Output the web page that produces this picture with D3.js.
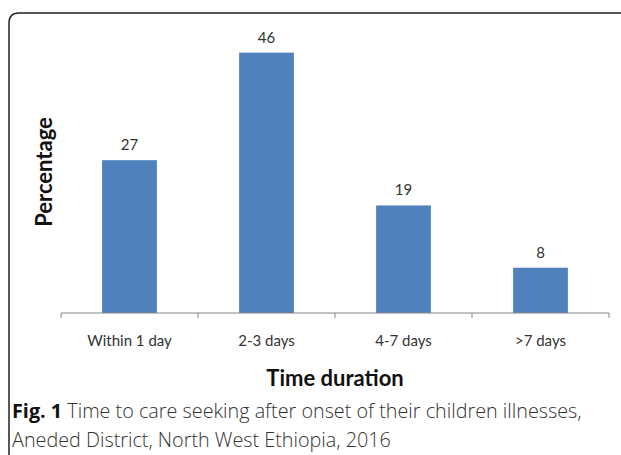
<!DOCTYPE html>
<html>
<head>
<meta charset="utf-8">
<script src="https://cdn.jsdelivr.net/npm/d3@7"></script>
<style>
  html, body { margin: 0; padding: 0; background: #fff; }
  svg { display: block; }
</style>
</head>
<body>
<div id="chart"></div>
<script>
const categories = ["Within 1 day", "2-3 days", "4-7 days", ">7 days"];
const values = [27, 46, 19, 8];
const yTitle = "Percentage";
const xTitle = "Time duration";
const captionLines = [
  ["Fig. 1", "Time to care seeking after onset of their children illnesses,"],
  ["", "Aneded District, North West Ethiopia, 2016"]
];

const width = 621, height = 455;
const blue = "#4f81bd";
const axisGrey = "#868686";
const chartFont = "Lato, 'Open Sans', sans-serif";
const capFont = "'Open Sans', 'Noto Sans', sans-serif";

const svg = d3.select("#chart")
  .append("svg")
  .attr("width", width)
  .attr("height", height);

// rounded frame open on the right and bottom
const r = 10;
svg.append("path")
  .attr("d", `M9,${height} L9,${13 + r} Q9,13 ${9 + r},13 L${width},13`)
  .attr("fill", "none")
  .attr("stroke", "#222")
  .attr("stroke-width", 1.5);

const plot = { left: 61, right: 609, top: 30, bottom: 313 };

const x = d3.scaleBand()
  .domain(categories)
  .range([plot.left, plot.right])
  .paddingInner(0.6)
  .paddingOuter(0.3);

const y = d3.scaleLinear()
  .domain([0, 50])
  .range([plot.bottom, plot.top]);

// bars
svg.selectAll("rect.bar")
  .data(values)
  .join("rect")
  .attr("class", "bar")
  .attr("x", (d, i) => x(categories[i]))
  .attr("y", d => y(d))
  .attr("width", x.bandwidth())
  .attr("height", d => y(0) - y(d))
  .attr("fill", blue);

// value labels
svg.selectAll("text.val")
  .data(values)
  .join("text")
  .attr("class", "val")
  .attr("x", (d, i) => x(categories[i]) + x.bandwidth() / 2)
  .attr("y", d => y(d) - 10)
  .attr("text-anchor", "middle")
  .attr("font-family", chartFont)
  .attr("font-size", 15)
  .attr("fill", "#333")
  .text(d => d);

// x axis: baseline plus tick marks at band edges
const edges = categories.map(c => x(c) - x.step() * x.paddingInner() / 2)
  .concat([plot.right]);
edges[0] = plot.left;

svg.append("line")
  .attr("x1", plot.left).attr("x2", plot.right)
  .attr("y1", plot.bottom).attr("y2", plot.bottom)
  .attr("stroke", axisGrey);

svg.selectAll("line.tick")
  .data(edges)
  .join("line")
  .attr("class", "tick")
  .attr("x1", d => d).attr("x2", d => d)
  .attr("y1", plot.bottom).attr("y2", plot.bottom + 5)
  .attr("stroke", axisGrey);

svg.selectAll("text.cat")
  .data(categories)
  .join("text")
  .attr("class", "cat")
  .attr("x", d => x(d) + x.bandwidth() / 2)
  .attr("y", 346)
  .attr("text-anchor", "middle")
  .attr("font-family", chartFont)
  .attr("font-size", 15)
  .attr("fill", "#333")
  .text(d => d);

// axis titles
svg.append("text")
  .attr("x", (plot.left + plot.right) / 2)
  .attr("y", 386)
  .attr("text-anchor", "middle")
  .attr("font-family", chartFont)
  .attr("font-weight", "bold")
  .attr("font-size", 22)
  .attr("fill", "#111")
  .text(xTitle);

svg.append("text")
  .attr("transform", `translate(52,${172}) rotate(-90)`)
  .attr("text-anchor", "middle")
  .attr("font-family", chartFont)
  .attr("font-weight", "bold")
  .attr("font-size", 22)
  .attr("fill", "#111")
  .text(yTitle);

// caption
const cap = svg.append("g")
  .attr("font-family", capFont)
  .attr("font-size", 19.8)
  .attr("font-weight", 300)
  .attr("fill", "#333");

captionLines.forEach((parts, i) => {
  const t = cap.append("text")
    .attr("x", 12)
    .attr("y", 418 + i * 29);
  if (parts[0]) {
    t.append("tspan").attr("font-weight", "bold").attr("fill", "#111").text(parts[0] + " ");
  }
  t.append("tspan").text(parts[1]);
});
</script>
</body>
</html>
